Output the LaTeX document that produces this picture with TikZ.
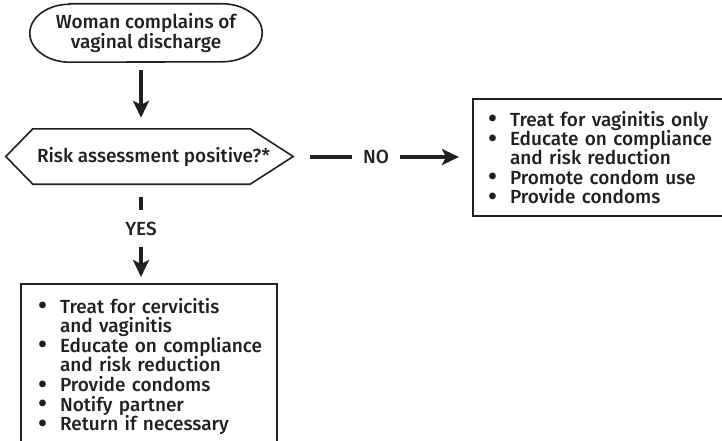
\documentclass[tikz,border=0pt]{standalone}
\usepackage{fontspec}
\setmainfont{Fira Sans}[BoldFont={Fira Sans Medium}]
\usetikzlibrary{arrows.meta}
\definecolor{ink}{HTML}{231F20}
% bullet item with a hanging indent; lines are never broken
\newcommand\bdot{\smash{\raisebox{-1.5pt}{\scalebox{1.4}{\textbullet}}}}
\newcommand\bitem[1]{\makebox[22pt][l]{\bdot}\mbox{#1}}
\newcommand\bcont[1]{\hspace*{22pt}\mbox{#1}}
\begin{document}
\begin{tikzpicture}[x=1pt,y=-1pt,
  every node/.style={font=\bfseries\fontsize{19}{19.6}\selectfont, text=ink, inner sep=0pt},
  conn/.style={draw=ink, line width=4pt},
  arr/.style={conn, -{Stealth[length=17pt,width=16pt,inset=4pt]}},
  outline/.style={draw=ink, line width=1.6pt, line join=miter},
  listbox/.style={draw=ink, line width=2pt, anchor=north west, align=left}]
\useasboundingbox (0,0) rectangle (722,441);
\clip (0,0) rectangle (722,441);

% start node (oval)
\node[minimum width=232pt, minimum height=58pt, align=center] (start) at (146,33)
  {Woman complains of\\vaginal discharge};
\draw[outline] ([xshift=40pt]start.north west) -- ([xshift=-40pt]start.north east)
  arc[start angle=90, end angle=-90, x radius=40pt, y radius=29pt]
  -- ([xshift=40pt]start.south west)
  arc[start angle=270, end angle=90, x radius=40pt, y radius=29pt] -- cycle;

% decision (hexagon)
\node[minimum width=287pt, minimum height=55pt] (risk) at (149.5,156.5)
  {\hspace*{8pt}Risk assessment positive?*};
\draw[outline] (risk.west) -- ([xshift=27pt]risk.north west) -- ([xshift=-43pt]risk.north east)
  -- (risk.east) -- ([xshift=-43pt]risk.south east) -- ([xshift=27pt]risk.south west) -- cycle;

% branch labels
\node (no) at (376,157) {NO};
\node (yes) at (141,228.5) {YES};

% outcome boxes
\node[listbox, text width=240pt, inner xsep=15pt, inner ysep=12pt,
      font=\bfseries\fontsize{19}{19.4}\selectfont] (treatv) at (472,98)
  {\bitem{Treat for vaginitis only}\\
   \bitem{Educate on compliance}\\
   \bcont{and risk reduction}\\
   \bitem{Promote condom use}\\
   \bitem{Provide condoms}};
\node[listbox, text width=222pt, inner xsep=17pt, inner ysep=14pt] (treatcv) at (20,283)
  {\bitem{Treat for cervicitis}\\
   \bcont{and vaginitis}\\
   \bitem{Educate on compliance}\\
   \bcont{and risk reduction}\\
   \bitem{Provide condoms}\\
   \bitem{Notify partner}\\
   \bitem{Return if necessary}};

% connectors
\draw[arr, shorten <=8pt, shorten >=11pt] (start.south -| yes.center) -- (risk.north -| yes.center);
\draw[conn, shorten <=17pt, shorten >=11pt] (risk.east |- no.west) -- (no.west);
\draw[arr, shorten <=11pt, shorten >=13pt] (no.east) -- (no.east -| treatv.west);
\draw[conn, shorten <=13pt, shorten >=11pt] (risk.south -| yes.center) -- (yes.north);
\draw[arr, shorten <=11pt, shorten >=6pt] (yes.south) -- (treatcv.north -| yes.center);
\end{tikzpicture}
\end{document}
